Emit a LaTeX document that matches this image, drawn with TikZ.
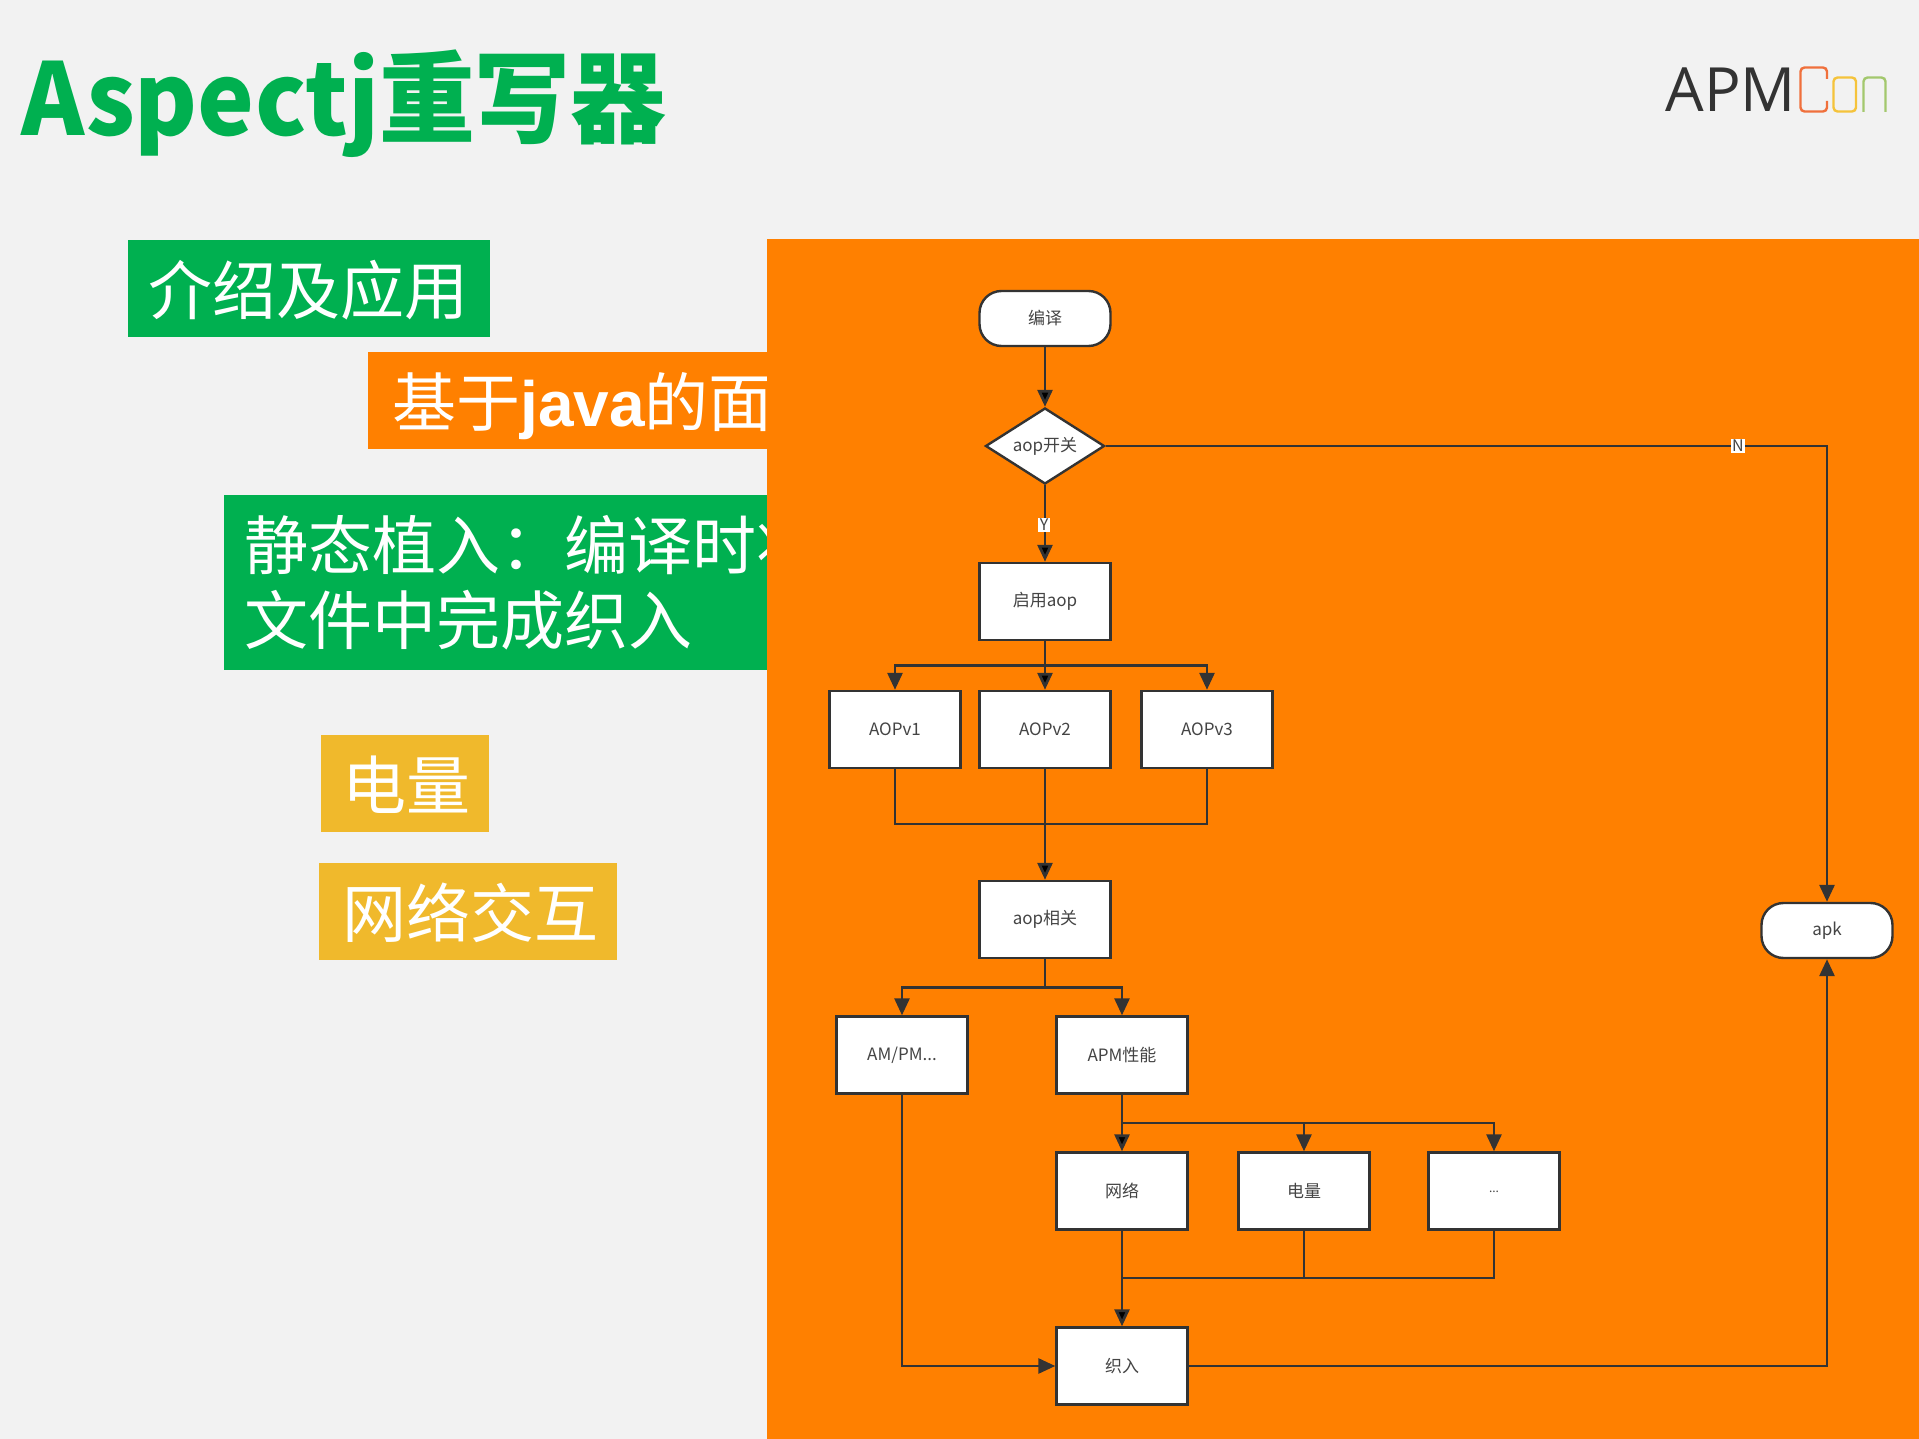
\documentclass[tikz,border=0pt]{standalone}
\usepackage{fontspec}
\setmainfont{Noto Sans CJK SC}
\newfontfamily\javafont{Liberation Sans}
\newfontfamily\logofont{Open Sans}
\usetikzlibrary{arrows.meta,shapes.geometric}
\definecolor{pagebg}{HTML}{F2F2F2}
\definecolor{apmgreen}{HTML}{00B050}
\definecolor{apmorange}{HTML}{FF8000}
\definecolor{apmyellow}{HTML}{F0B92C}
\definecolor{linegray}{HTML}{333333}
\definecolor{textgray}{HTML}{444444}
\definecolor{logoc}{HTML}{F0703C}
\definecolor{logoo}{HTML}{F5C33B}
\definecolor{logon}{HTML}{A3C86D}
\tikzset{
  banner/.style={anchor=north west,text=white,align=left,font=\fontsize{32}{37.5}\selectfont,inner ysep=0pt,inner xsep=10pt},
  one line/.style={banner,text height=29.5pt,text depth=3.5pt,minimum height=48.5pt},
  box node/.style={rectangle,draw=linegray,line width=1.2pt,fill=white,text=textgray,minimum width=65.5pt,minimum height=38.5pt,inner sep=0pt,font=\fontsize{8.5}{10}\selectfont},
  end node/.style={box node,minimum height=27.5pt,rounded corners=11pt},
  test node/.style={box node,diamond,aspect=1.5,minimum width=59.5pt,minimum height=38pt},
  tag node/.style={fill=white,text=textgray,inner xsep=.8pt,inner ysep=.6pt,font=\fontsize{8}{9}\selectfont},
  flow/.style={draw=linegray,line width=1.4pt,-{Triangle[length=8.5pt,width=7.5pt]}},
  plain/.style={draw=linegray,line width=1.4pt},
}
\begin{document}
\begin{tikzpicture}[x=.5pt,y=-.5pt]
  \useasboundingbox (0,0) rectangle (1919,1439);
  \fill[pagebg] (0,0) rectangle (1919,1439);

  % title and logo
  \path (21,104) node[anchor=west,inner sep=0pt,text=apmgreen,font=\fontsize{50}{60}\selectfont\bfseries] (title) {\scalebox{.958}[1]{Aspectj重写器}};
  \path (1665,89.5) node[anchor=west,inner sep=0pt,text=linegray,font=\logofont\fontsize{30.5}{36}\selectfont] (logo) {APM};
  \draw[line width=1.2pt,draw=logoc,rounded corners=2pt] (1827,79) -- (1827,67.5) -- (1800.5,67.5) -- (1800.5,111.5) -- (1827,111.5) -- (1827,101);
  \draw[line width=1.2pt,draw=logoo,rounded corners=2pt] (1833.5,77.5) rectangle (1856,111.5);
  \draw[line width=1.2pt,draw=logon,rounded corners=2pt] (1863.5,112) -- (1863.5,77.5) -- (1885.5,77.5) -- (1885.5,112);

  % left banners
  \path (128,240)  node[one line,fill=apmgreen,text width=161pt] (intro) {介绍及应用};
  \path (368,352)  node[one line,fill=apmorange,text width=179.5pt,inner xsep=12pt] (base) {基于{\javafont\bfseries java}的面};
  \path (224,495)  node[banner,fill=apmgreen,text width=251.5pt,minimum height=87.5pt] (weavetext) {静态植入：编译时将\\文件中完成织入};
  \path (321,735)  node[one line,fill=apmyellow,text width=63pt,inner xsep=10.5pt] (power) {电量};
  \path (319,863)  node[one line,fill=apmyellow,text width=126pt,inner xsep=11.5pt] (net) {网络交互};

  % orange panel
  \fill[apmorange] (767,239) rectangle (1919,1439);

  % flow chart
  \path (1045,318.5) node[end node] (compile) {编译}
        (1045,446)   node[test node] (switch) {aop开关}
        (1045,601.5) node[box node] (enable) {启用aop}
        (895,729.5)  node[box node] (v1) {AOPv1}
        (1045,729.5) node[box node] (v2) {AOPv2}
        (1207,729.5) node[box node] (v3) {AOPv3}
        (1045,919.5) node[box node] (related) {aop相关}
        (902,1055)   node[box node] (ampm) {AM/PM...}
        (1122,1055)  node[box node] (apm) {APM性能}
        (1122,1191)  node[box node] (network) {网络}
        (1304,1191)  node[box node] (battery) {电量}
        (1494,1191)  node[box node,font=\fontsize{6}{7}\selectfont] (others) {\raisebox{-1.5pt}{...}}
        (1122,1366)  node[box node] (weave) {织入}
        (1827,930.5) node[end node] (apk) {apk};

  \coordinate (fork1) at (1045,665.5);
  \coordinate (join1) at (1045,824);
  \coordinate (fork2) at (1045,987.5);
  \coordinate (fork3) at (1122,1123);
  \coordinate (join2) at (1122,1278);

  \path[flow]
        (compile) edge (switch)
        (switch) edge node[tag node,pos=.52,xshift=-.5pt] (yes) {Y} (enable)
        (enable) edge (v2)
        (v2) edge (related)
        (apm) edge (network)
        (network) edge (weave);
  \draw[flow] (fork1) -| (v1);
  \draw[flow] (fork1) -| (v3);
  \draw[plain] (v1) |- (join1);
  \draw[plain] (v3) |- (join1);
  \draw[plain] (related) -- (fork2);
  \draw[flow] (fork2) -| (ampm);
  \draw[flow] (fork2) -| (apm);
  \draw[flow] (fork3) -| (battery);
  \draw[flow] (fork3) -| (others);
  \draw[plain] (battery) |- (join2);
  \draw[plain] (others) |- (join2);
  \draw[flow] (ampm) |- (weave);
  \draw[flow] (weave) -| (apk);
  \draw[flow] (switch) -| (apk);
  \path (1738,446) node[tag node] (no) {N};
\end{tikzpicture}
\end{document}
